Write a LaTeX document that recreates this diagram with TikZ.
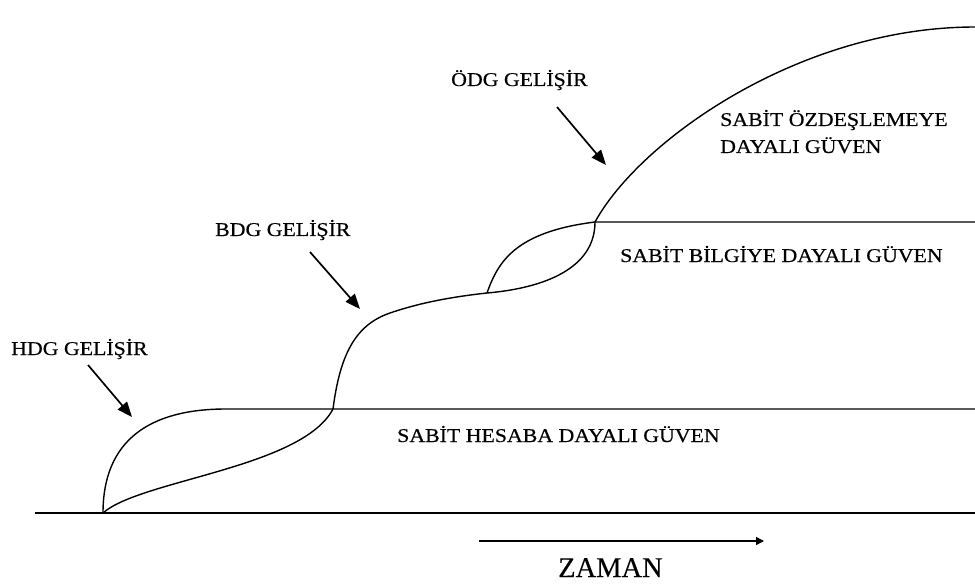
\documentclass[tikz,border=0pt]{standalone}
\usepackage{fontspec}
\setmainfont[FakeStretch=1.12,FakeBold=0.4]{Liberation Serif}
\newfontfamily\plainserif[FakeBold=0.3]{Liberation Serif}
\usetikzlibrary{arrows.meta}
\begin{document}
\begin{tikzpicture}[x=1pt,y=-1pt,
  curve/.style={line width=1.4pt,black},
  pointer/.style={line width=1.7pt,-{Triangle[length=15pt,width=12pt]}},
  lbl/.style={anchor=base west,inner sep=0pt,font=\fontsize{19.5}{24}\selectfont}]
\useasboundingbox (0,0) rectangle (975,588);
% key points
\coordinate (L) at (35,513);
\coordinate (O) at (103,513);
\coordinate (Rb) at (975,513);
\coordinate (H) at (226,409);
\coordinate (A) at (333,409);
\coordinate (Rh) at (975,409);
\coordinate (C) at (390,313);
\coordinate (B) at (487,293);
\coordinate (D) at (595,222);
\coordinate (Rd) at (975,222);
\coordinate (E) at (975,27);
% baseline
\draw[curve] (L) -- (Rb);
% HDG curve and level
\draw[curve] (O) .. controls (103,440) and (150,409) .. (H) -- (Rh);
% S-curve to BDG
\draw[curve] (O) .. controls (140,480) and (302,468) .. (A)
  .. controls (340,355) and (355,325) .. (C)
  .. controls (425,301) and (460,296) .. (B);
% lower branch
\draw[curve] (B) .. controls (545,288) and (595,268) .. (D);
% upper branch
\draw[curve] (B) .. controls (498,262) and (515,232) .. (D) -- (Rd);
% big curve
\draw[curve] (D) .. controls (640,140) and (800,27) .. (E);
% labels
\node[lbl] (hdg) at (11,355) {HDG GELİŞİR};
\node[lbl] (bdg) at (215,236) {BDG GELİŞİR};
\node[lbl] (odg) at (451,86) {ÖDG GELİŞİR};
\node[lbl] (oz1) at (720,126) {SABİT ÖZDEŞLEMEYE};
\node[lbl] (oz2) at (720,153) {DAYALI GÜVEN};
\node[lbl] (bil) at (620,262) {SABİT BİLGİYE DAYALI GÜVEN};
\node[lbl] (hes) at (397,442) {SABİT HESABA DAYALI GÜVEN};
\node[anchor=base west,inner sep=0pt,font=\plainserif\fontsize{28.5}{34}\selectfont] (zam) at (558,577) {ZAMAN};
% arrows
\coordinate (a1s) at (88,365);
\coordinate (a1e) at (132,417);
\coordinate (a2s) at (310,252);
\coordinate (a2e) at (360,309);
\coordinate (a3s) at (557,107);
\coordinate (a3e) at (606,165);
\draw[pointer] (a1s) -- (a1e);
\draw[pointer] (a2s) -- (a2e);
\draw[pointer] (a3s) -- (a3e);
\coordinate (zs) at (479,541);
\coordinate (ze) at (764,541);
\draw[line width=1.6pt,-{Triangle[length=8pt,width=8pt]}] (zs) -- (ze);
\end{tikzpicture}
\end{document}
